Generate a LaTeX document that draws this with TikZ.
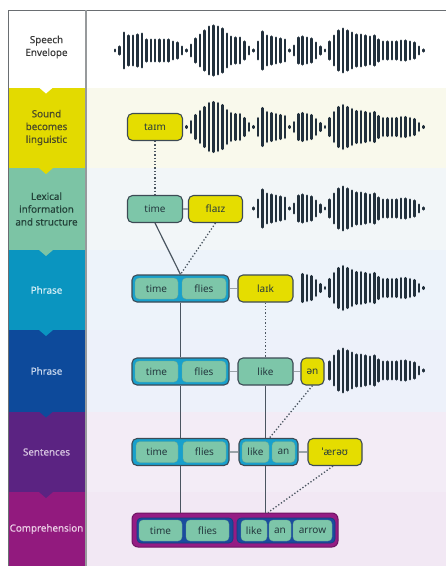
\documentclass[tikz,border=0pt]{standalone}
\usepackage{fontspec}
\setmainfont{Noto Sans}
\newfontfamily\labfont[FakeBold=0.4]{Noto Sans}
\usetikzlibrary{calc}
\definecolor{edgec}{HTML}{3D4B55}
\definecolor{tealc}{HTML}{7DC6A9}
\definecolor{yelc}{HTML}{E5DD00}
\definecolor{grpc}{HTML}{18A0CC}
\definecolor{dbc}{HTML}{1A4C9E}
\definecolor{magc}{HTML}{951C84}
\definecolor{barc}{HTML}{22303C}
\definecolor{lineg}{HTML}{4A5560}
\definecolor{lightg}{HTML}{9AA2A8}
\definecolor{frame}{HTML}{6A6E72}
\definecolor{Lb}{HTML}{E3DA00}
\definecolor{Lc}{HTML}{7CC4A5}
\definecolor{Ld}{HTML}{0A95C0}
\definecolor{Le}{HTML}{0D4A9B}
\definecolor{Lf}{HTML}{5B2382}
\definecolor{Lg}{HTML}{921A7E}
\definecolor{Rb}{HTML}{F9F9EC}
\definecolor{Rc}{HTML}{F2F6F8}
\definecolor{Rd}{HTML}{EDF3FA}
\definecolor{Re}{HTML}{EDF1FA}
\definecolor{Rf}{HTML}{F3ECF6}
\definecolor{Rg}{HTML}{F2E8F4}
\definecolor{txa}{HTML}{3A3A3A}
\definecolor{txb}{HTML}{4A4A28}
\definecolor{txc}{HTML}{24433A}
\definecolor{txd}{HTML}{D5EEF6}
\definecolor{txe}{HTML}{C8D8EE}
\definecolor{txf}{HTML}{D8C6E2}
\definecolor{txg}{HTML}{EFD3EA}
\definecolor{nodetx}{HTML}{24383E}
\newcommand\wavelist{2,5,19,16,16,17,18,12,12,12,12,12,12,10,9,5,2,7,13,17,21,25,26,25,23,18,15,14,14,10,5,2,10,20,16,15,14,13,12,2,6,14,15,14,13,9,5,2,10,16,21,23,21,19,17,17,16,15,16,12,10,10,10,10,11,11,10,9,5,2}
\newcommand\drawwave[2]{%
  \foreach \a [count=\i from 0] in \wavelist {%
    \ifnum\i<#2\relax\else
      \draw[wbar] ({115+4.47*\i},{#1-\a+1.2}) -- ({115+4.47*\i},{#1+\a-1.2});
    \fi}}
\begin{document}
\begin{tikzpicture}[x=1pt,y=-1pt,
  wbar/.style={draw=barc,line width=2.5pt,line cap=round},
  lab/.style={font=\labfont\fontsize{9.8}{12.8}\selectfont,align=center,inner sep=0pt},
  wbox/.style={rounded corners=5pt,draw=edgec,line width=1.1pt,inner sep=0pt,
     minimum height=27pt,font=\fontsize{10}{12}\selectfont,text=nodetx},
  ybox/.style={wbox,fill=yelc},
  tbox/.style={wbox,fill=tealc},
  gbox/.style={wbox,fill=grpc},
  ibox/.style={rounded corners=4pt,fill=tealc,draw=tealc!85!black,line width=0.3pt,
     inner sep=0pt,minimum height=21pt,font=\fontsize{10}{12}\selectfont,text=nodetx},
  dbox/.style={rounded corners=4pt,fill=dbc,draw=dbc!80!black,line width=0.6pt,
     inner sep=0pt,minimum height=25pt},
  mbox/.style={rounded corners=6pt,fill=magc,draw=magc!75!black,line width=1pt,
     inner sep=0pt,minimum height=34pt},
  struct/.style={draw=lineg,line width=1.2pt},
  link/.style={draw=lightg,line width=1.2pt},
  dots/.style={draw=lineg,line width=1.3pt,dotted}]
\useasboundingbox (0,0) rectangle (446,566);
% backgrounds
\fill[white] (0,0) rectangle (446,566);
\fill[Rb] (86,87.5) rectangle (446,168);
\fill[Rc] (86,168) rectangle (446,250);
\fill[Rd] (86,250) rectangle (446,330);
\fill[Re] (86,330) rectangle (446,411.5);
\fill[Rf] (86,411.5) rectangle (446,492);
\fill[Rg] (86,492) rectangle (446,566);
% left column
\fill[Lb] (8,87.5) rectangle (86,168);
\fill[Lc] (8,168) rectangle (86,250);
\fill[Ld] (8,250) rectangle (86,330);
\fill[Le] (8,330) rectangle (86,411.5);
\fill[Lf] (8,411.5) rectangle (86,492);
\fill[Lg] (8,492) rectangle (86,566);
\fill[white] (39,87.5) -- (53,87.5) -- (46,93.5) -- cycle;
\fill[Lb] (39,168) -- (53,168) -- (46,174) -- cycle;
\fill[Lc] (39,250) -- (53,250) -- (46,256) -- cycle;
\fill[Ld] (39,330) -- (53,330) -- (46,336) -- cycle;
\fill[Le] (39,411.5) -- (53,411.5) -- (46,417.5) -- cycle;
\fill[Lf] (39,492) -- (53,492) -- (46,498) -- cycle;
% frame
\draw[frame,line width=1pt] (8,566) -- (8,10) -- (446,10);
\draw[frame!70,line width=1.4pt] (86,10) -- (86,566);
% left labels
\node[lab,text=txa] (l1) at (46.5,47) {Speech\\Envelope};
\node[lab,text=txb] (l2) at (46.5,127.5) {Sound\\becomes\\linguistic};
\node[lab,text=txc] (l3) at (46.5,209) {Lexical\\information\\and structure};
\node[lab,text=txd] (l4) at (46.5,290) {Phrase};
\node[lab,text=txe] (l5) at (46.5,371) {Phrase};
\node[lab,text=txf] (l6) at (46.5,452) {Sentences};
\node[lab,text=txg] (l7) at (46.5,529) {Comprehension};
% waveforms
\drawwave{50.5}{0}
\drawwave{127}{16}
\drawwave{208.5}{31}
\drawwave{288}{42}
\drawwave{370.5}{48}
% row 2
\node[ybox,minimum width=55pt] (taim) at (155,127) {taɪm};
% row 3
\node[tbox,minimum width=55pt] (time3) at (155,209) {time};
\node[ybox,minimum width=54pt] (flaiz) at (215.5,209) {flaɪz};
% row 4
\node[gbox,minimum width=97pt] (g4) at (180.5,288.5) {};
\node[ibox,minimum width=43pt] (time4) at (156.5,288.5) {time};
\node[ibox,minimum width=44pt] (flies4) at (204,288.5) {flies};
\node[ybox,minimum width=55pt] (laik) at (265.5,288.5) {laɪk};
% row 5
\node[gbox,minimum width=97pt] (g5) at (180.5,371.5) {};
\node[ibox,minimum width=43pt] (time5) at (156.5,371.5) {time};
\node[ibox,minimum width=44pt] (flies5) at (204,371.5) {flies};
\node[tbox,minimum width=55pt] (like5) at (265.5,371.5) {like};
\node[ybox,minimum width=23pt] (en) at (312.5,371.5) {ən};
% row 6
\node[gbox,minimum width=97pt] (g6a) at (180.5,452) {};
\node[ibox,minimum width=42pt] (time6) at (157,452) {time};
\node[ibox,minimum width=43pt] (flies6) at (204.5,452) {flies};
\node[gbox,minimum width=59pt] (g6b) at (268.5,452) {};
\node[ibox,minimum width=27pt] (like6) at (255.5,452) {like};
\node[ibox,minimum width=23pt] (an6) at (283.5,452) {an};
\node[ybox,minimum width=54pt] (aero) at (335,452) {ˈærəʊ};
% row 7
\node[mbox,minimum width=206pt] (big) at (235,530) {};
\node[dbox,minimum width=96pt] (g7a) at (185,530.5) {};
\node[dbox,minimum width=98pt] (g7b) at (286,530.5) {};
\node[ibox,minimum width=43pt] (time7) at (160.5,530.5) {time};
\node[ibox,minimum width=43pt] (flies7) at (207.5,530.5) {flies};
\node[ibox,minimum width=26pt] (like7) at (254,530.5) {like};
\node[ibox,minimum width=22pt] (an7) at (280,530.5) {an};
\node[ibox,minimum width=39pt] (arrow7) at (312.5,530.5) {arrow};
% connectors
\draw[dots] (taim.south) -- (time3.north);
\draw[link] (time3.east) -- (flaiz.west);
\draw[struct] (time3.south) -- (g4.north);
\draw[dots] (flaiz.south) -- (g4.north);
\draw[link] (g4.east) -- (laik.west);
\draw[struct] (g4.south) -- (g5.north);
\draw[dots] (laik.south) -- (like5.north);
\draw[link] (g5.east) -- (like5.west);
\draw[link] (like5.east) -- (en.west);
\draw[struct] (g5.south) -- (g6a.north);
\draw[struct] (like5.south) -- (like5.south |- g6b.north);
\coordinate (enend) at ($(g6b.north)+(1,0)$);
\draw[dots] (en.south) -- (enend);
\draw[link] (g6a.east) -- (g6b.west);
\draw[link] (g6b.east) -- (aero.west);
\draw[struct] (g6a.south) -- (g6a.south |- big.north);
\draw[struct] (like5.south |- g6b.south) -- (like5.south |- big.north);
\coordinate (aeroend) at ($(like5.south |- big.north)+(2.5,0)$);
\draw[dots] ($(aero.south)+(-2,0)$) -- (aeroend);
\end{tikzpicture}
\end{document}
